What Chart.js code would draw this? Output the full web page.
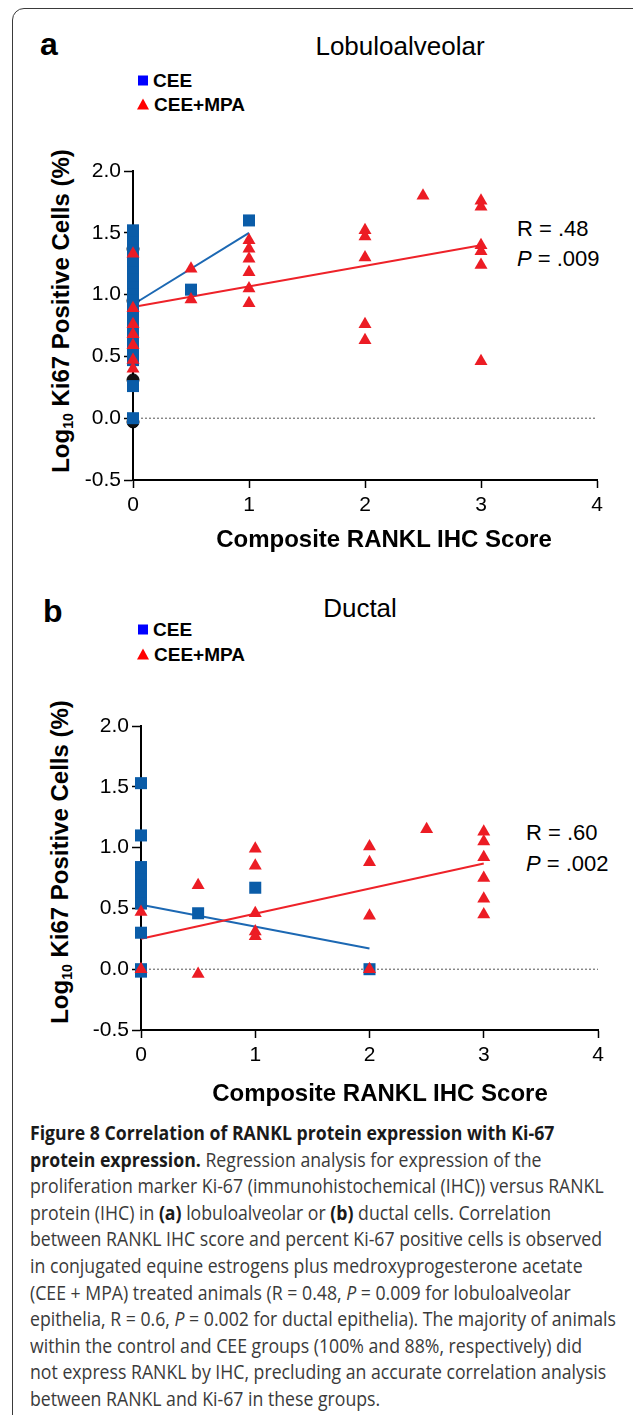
<!DOCTYPE html>
<html>
<head>
<meta charset="utf-8">
<script src="https://cdn.jsdelivr.net/npm/chart.js@4.4.1/dist/chart.umd.min.js"></script>
<style>
  html, body { margin: 0; padding: 0; background: #fff; }
  body { width: 633px; height: 1415px; overflow: hidden; position: relative; font-family: "Liberation Sans", Arial, sans-serif; }
  .frame { position: absolute; left: 12px; top: 8px; width: 700px; height: 1500px; border: 1.5px solid #3a3a3a; border-radius: 12px; }
  .abs { position: absolute; white-space: nowrap; line-height: 1; }
  .center { transform: translate(-50%, -50%); }
  .vcenter { transform: translateY(-50%); }
  .letter { font-weight: bold; font-size: 32px; color: #000; }
  .ptitle { font-size: 26px; color: #000; }
  .legend { font-weight: bold; font-size: 19px; color: #000; display: flex; align-items: center; }
  .sq { width: 10px; height: 10px; background: #0000ff; margin-right: 5px; }
  .tri { width: 0; height: 0; border-left: 6px solid transparent; border-right: 6px solid transparent; border-bottom: 11px solid #ff0000; margin-right: 5px; }
  .xtitle { font-weight: bold; font-size: 24px; color: #000; }
  .ytitle { font-weight: bold; font-size: 24px; color: #000; transform: translate(-50%, -50%) rotate(-90deg); }
  .ytitle sub { font-size: 14px; vertical-align: -4px; }
  .stat { font-size: 22px; color: #000; }
  canvas { position: absolute; left: 0; }
  #caption { position: absolute; left: 30px; top: 1120px; font-family: "Open Sans", "Noto Sans", sans-serif; font-size: 20px; color: #3a3a3a; transform-origin: 0 0; }
  #caption .ln { height: 26.6px; line-height: 26.6px; white-space: nowrap; }
  #caption b { color: #1a1a1a; }
</style>
</head>
<body>
<div class="frame"></div>

<!-- panel a -->
<div class="abs letter" style="left:40px; top:44px; transform:translateY(-50%);">a</div>
<div class="abs ptitle center" style="left:400px; top:46px;">Lobuloalveolar</div>
<div class="abs legend vcenter" style="left:138px; top:80px;"><div class="sq"></div>CEE</div>
<div class="abs legend vcenter" style="left:137px; top:104px;"><div class="tri"></div>CEE+MPA</div>
<div class="abs ytitle" style="left:62px; top:311px;">Log<sub>10</sub> Ki67 Positive Cells (%)</div>
<div class="abs stat vcenter" style="left:517px; top:229px;">R = .48</div>
<div class="abs stat vcenter" style="left:517px; top:259px;"><i>P</i> = .009</div>
<canvas id="chartA" width="633" height="400" style="top:130px;"></canvas>
<div class="abs xtitle center" style="left:384px; top:539px;">Composite RANKL IHC Score</div>

<!-- panel b -->
<div class="abs letter" style="left:43px; top:611px; transform:translateY(-50%);">b</div>
<div class="abs ptitle center" style="left:360px; top:608px;">Ductal</div>
<div class="abs legend vcenter" style="left:138px; top:629px;"><div class="sq"></div>CEE</div>
<div class="abs legend vcenter" style="left:137px; top:654px;"><div class="tri"></div>CEE+MPA</div>
<div class="abs ytitle" style="left:61px; top:862px;">Log<sub>10</sub> Ki67 Positive Cells (%)</div>
<div class="abs stat vcenter" style="left:526px; top:833px;">R = .60</div>
<div class="abs stat vcenter" style="left:526px; top:864px;"><i>P</i> = .002</div>
<canvas id="chartB" width="633" height="395" style="top:685px;"></canvas>
<div class="abs xtitle center" style="left:380px; top:1093px;">Composite RANKL IHC Score</div>

<div id="caption">
  <div class="ln"><span><b>Figure 8 Correlation of RANKL protein expression with Ki-67</b></span></div>
  <div class="ln"><span><b>protein expression.</b> Regression analysis for expression of the</span></div>
  <div class="ln"><span>proliferation marker Ki-67 (immunohistochemical (IHC)) versus RANKL</span></div>
  <div class="ln"><span>protein (IHC) in <b>(a)</b> lobuloalveolar or <b>(b)</b> ductal cells. Correlation</span></div>
  <div class="ln"><span>between RANKL IHC score and percent Ki-67 positive cells is observed</span></div>
  <div class="ln"><span>in conjugated equine estrogens plus medroxyprogesterone acetate</span></div>
  <div class="ln"><span>(CEE + MPA) treated animals (R = 0.48, <i>P</i> = 0.009 for lobuloalveolar</span></div>
  <div class="ln"><span id="fitLine">epithelia, R = 0.6, <i>P</i> = 0.002 for ductal epithelia). The majority of animals</span></div>
  <div class="ln"><span>within the control and CEE groups (100% and 88%, respectively) did</span></div>
  <div class="ln"><span>not express RANKL by IHC, precluding an accurate correlation analysis</span></div>
  <div class="ln"><span>between RANKL and Ki-67 in these groups.</span></div>
</div>

<script>
// axis ticks
const xTicks = [0, 1, 2, 3, 4];
const yTicks = [-0.5, 0, 0.5, 1.0, 1.5, 2.0];

// panel a - lobuloalveolar
const aCeeX = [0, 0, 0, 0, 0, 0, 0, 0, 0, 0, 0, 0, 0, 0, 0, 0, 0, 0, 0, 0, 0, 0.5, 1];
const aCeeY = [1.52, 1.47, 1.42, 1.36, 1.30, 1.24, 1.18, 1.12, 1.06, 1.00, 0.95, 0.89, 0.83, 0.77, 0.71, 0.65, 0.59, 0.53, 0.47, 0.26, 0.0, 1.04, 1.60];
const aMpaX = [0, 0, 0, 0, 0, 0, 0, 0.5, 0.5, 1, 1, 1, 1, 1, 1, 2, 2, 2, 2, 2, 2.5, 3, 3, 3, 3, 3, 3];
const aMpaY = [1.33, 0.89, 0.76, 0.68, 0.59, 0.47, 0.40, 1.21, 0.96, 1.44, 1.37, 1.29, 1.18, 1.05, 0.93, 1.52, 1.47, 1.30, 0.76, 0.63, 1.80, 1.76, 1.71, 1.40, 1.35, 1.24, 0.46];
// control animals, mostly hidden behind the CEE squares
const aCtrlX = [0, 0, 0, 0];
const aCtrlY = [1.37, 0.95, 0.31, -0.03];
const aCeeFitX = [0, 1];
const aCeeFitY = [0.92, 1.50];
const aMpaFitX = [0, 3];
const aMpaFitY = [0.90, 1.40];

// panel b - ductal
const bCeeX = [0, 0, 0, 0, 0, 0, 0, 0, 0, 0, 0, 0, 0.5, 1, 2];
const bCeeY = [1.53, 1.10, 0.84, 0.79, 0.74, 0.69, 0.64, 0.59, 0.54, 0.30, 0.0, -0.02, 0.46, 0.67, 0.0];
const bMpaX = [0, 0, 0.5, 0.5, 1, 1, 1, 1, 1, 2, 2, 2, 2, 2.5, 3, 3, 3, 3, 3, 3];
const bMpaY = [0.47, 0.0, 0.69, -0.04, 0.99, 0.85, 0.46, 0.31, 0.27, 1.01, 0.88, 0.44, 0.0, 1.15, 1.13, 1.05, 0.92, 0.75, 0.58, 0.45];
const bCeeFitX = [0, 2];
const bCeeFitY = [0.53, 0.17];
const bMpaFitX = [0, 3];
const bMpaFitY = [0.25, 0.87];

// dotted reference line at zero
const zeroX = [0, 4];
const zeroY = [0, 0];

const COLORS = {
    cee: '#0a5ca8',
    mpa: '#ec1c24',
    ceeLine: '#1c68b3',
    mpaLine: '#ee2229'
};

function toPoints(xs, ys) {
    return xs.map((x, i) => ({ x: x, y: ys[i] }));
}

function buildPanel(canvasId, d, box) {
    const tickFont = { family: '"Liberation Sans", Arial, sans-serif', size: 21 };

    const datasets = [
        {
            data: toPoints(d.mpaX, d.mpaY),
            pointStyle: 'triangle', pointRadius: 7.5,
            backgroundColor: COLORS.mpa, borderColor: COLORS.mpa, borderWidth: 0,
            showLine: false, clip: false
        },
        {
            data: toPoints(d.ceeX, d.ceeY),
            pointStyle: 'rect', pointRadius: 8.5,
            backgroundColor: COLORS.cee, borderColor: COLORS.cee, borderWidth: 0,
            showLine: false, clip: false
        }
    ];

    if (d.ctrlX) {
        datasets.push({
            data: toPoints(d.ctrlX, d.ctrlY),
            pointStyle: 'circle', pointRadius: 6,
            backgroundColor: '#111111', borderColor: '#000000', borderWidth: 1,
            showLine: false, clip: false
        });
    }

    datasets.push(
        {
            data: toPoints(d.mpaFitX, d.mpaFitY),
            showLine: true, pointRadius: 0, borderColor: COLORS.mpaLine, borderWidth: 2, clip: false
        },
        {
            data: toPoints(d.ceeFitX, d.ceeFitY),
            showLine: true, pointRadius: 0, borderColor: COLORS.ceeLine, borderWidth: 2, clip: false
        },
        {
            data: toPoints(zeroX, zeroY),
            showLine: true, pointRadius: 0, borderColor: '#555555', borderWidth: 1, borderDash: [2, 2], clip: false
        }
    );

    return new Chart(document.getElementById(canvasId), {
        type: 'scatter',
        data: { datasets: datasets },
        options: {
            responsive: false,
            animation: false,
            layout: { padding: { top: box.top, right: box.right, bottom: 0, left: 0 } },
            plugins: { legend: { display: false }, tooltip: { enabled: false } },
            scales: {
                x: {
                    type: 'linear',
                    min: xTicks[0],
                    max: xTicks[xTicks.length - 1],
                    afterBuildTicks: scale => { scale.ticks = xTicks.map(v => ({ value: v })); },
                    ticks: { font: tickFont, color: '#000', padding: 5, callback: v => String(v) },
                    grid: { drawOnChartArea: false, tickLength: 8, tickWidth: 1.5, tickColor: '#000' },
                    border: { color: '#000', width: 2 },
                    afterFit: scale => { scale.height = box.xHeight; }
                },
                y: {
                    type: 'linear',
                    min: yTicks[0],
                    max: yTicks[yTicks.length - 1],
                    afterBuildTicks: scale => { scale.ticks = yTicks.map(v => ({ value: v })); },
                    ticks: { font: tickFont, color: '#000', padding: 3, callback: v => Number(v).toFixed(1) },
                    grid: { drawOnChartArea: false, tickLength: 9, tickWidth: 1.5, tickColor: '#000' },
                    border: { color: '#000', width: 2 },
                    afterFit: scale => { scale.width = box.left; }
                }
            }
        }
    });
}

buildPanel('chartA', {
    ceeX: aCeeX, ceeY: aCeeY, mpaX: aMpaX, mpaY: aMpaY,
    ctrlX: aCtrlX, ctrlY: aCtrlY,
    ceeFitX: aCeeFitX, ceeFitY: aCeeFitY, mpaFitX: aMpaFitX, mpaFitY: aMpaFitY
}, { top: 41, right: 36, left: 133, xHeight: 50 });

buildPanel('chartB', {
    ceeX: bCeeX, ceeY: bCeeY, mpaX: bMpaX, mpaY: bMpaY,
    ceeFitX: bCeeFitX, ceeFitY: bCeeFitY, mpaFitX: bMpaFitX, mpaFitY: bMpaFitY
}, { top: 41, right: 35, left: 141, xHeight: 50 });

// squeeze the caption so its longest line matches the figure width
const fit = document.getElementById('fitLine').getBoundingClientRect().width;
document.getElementById('caption').style.transform = 'scaleX(' + (586 / fit) + ')';
</script>
</body>
</html>
